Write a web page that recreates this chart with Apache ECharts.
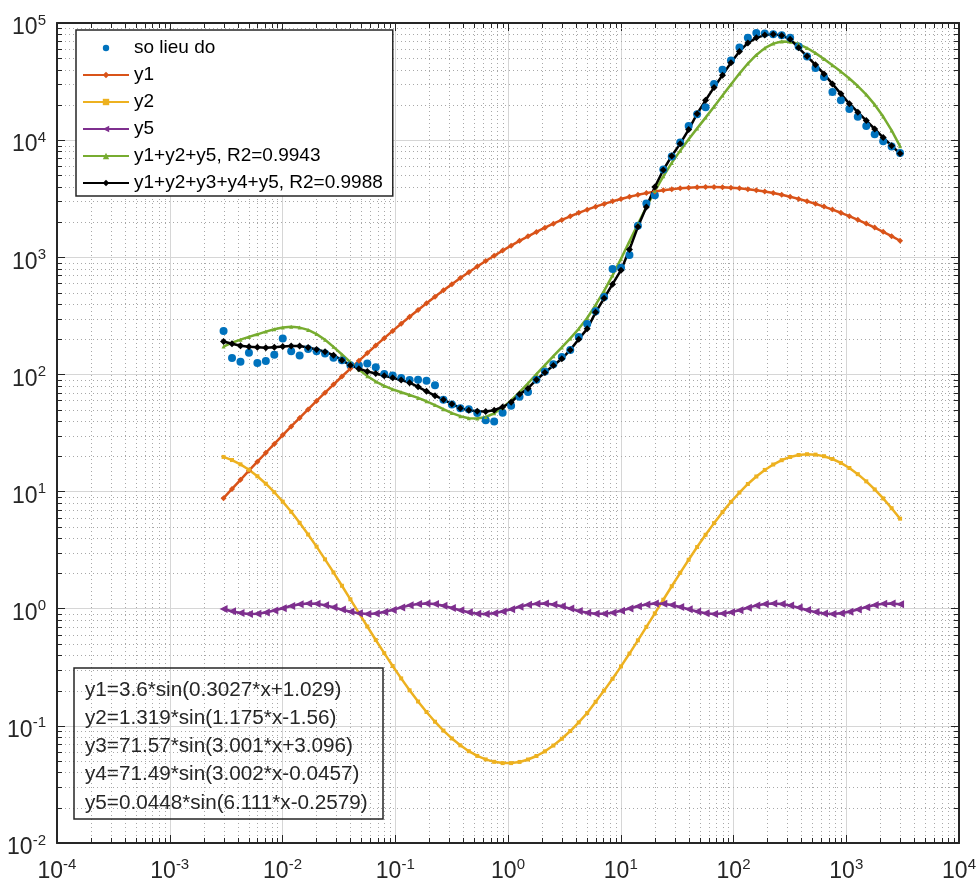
<!DOCTYPE html>
<html>
<head>
<meta charset="utf-8">
<script src="https://cdn.jsdelivr.net/npm/echarts@6/dist/echarts.min.js"></script>
<style>
html,body{margin:0;padding:0;background:#fff;}
#chart{width:979px;height:886px;}
</style>
</head>
<body>
<div id="chart"></div>
<script>
// ---------- data ----------
const xValues = [0.003, 0.003566, 0.004238, 0.005037, 0.005986, 0.007114, 0.008455, 0.01005, 0.01194, 0.01419,
  0.01687, 0.02005, 0.02383, 0.02832, 0.03366, 0.04, 0.04755, 0.05651, 0.06716, 0.07982,
  0.09487, 0.1128, 0.134, 0.1593, 0.1893, 0.225, 0.2674, 0.3178, 0.3777, 0.4489,
  0.5335, 0.6341, 0.7536, 0.8957, 1.065, 1.265, 1.504, 1.787, 2.124, 2.524,
  3, 3.566, 4.238, 5.037, 5.986, 7.114, 8.455, 10.05, 11.94, 14.19,
  16.87, 20.05, 23.83, 28.32, 33.66, 40, 47.55, 56.51, 67.16, 79.82,
  94.87, 112.8, 134, 159.3, 189.3, 225, 267.4, 317.8, 377.7, 448.9,
  533.5, 634.1, 753.6, 895.7, 1065, 1265, 1504, 1787, 2124, 2524, 3000];

const dataValues = [235, 138, 128, 153, 125, 130, 147, 203, 158, 145,
  165, 158, 151, 139, 132, 120, 119, 124, 115, 101,
  97.7, 93.3, 89.5, 89.9, 88.3, 80.9, 60.8, 55.3, 51.5, 50.5,
  46.9, 40.6, 39.7, 47.0, 54.1, 64.6, 70.8, 90.2, 106, 122,
  141, 162, 209, 269, 347, 457, 794, 813, 1047, 1862,
  2884, 3388, 5623, 7244, 9550, 13180, 16600, 19050, 30200, 39810,
  47860, 61660, 74990, 82220, 81280, 80350, 78520, 74990, 63100, 51880,
  41210, 34670, 25700, 21880, 18410, 15850, 13180, 11220, 9772, 8810, 7762];

const y1Values = [8.79, 10.53, 12.60, 15.08, 17.99, 21.45, 25.52, 30.33, 35.97, 42.56,
  50.30, 59.35, 69.82, 82.0, 96.0, 112.2, 130.7, 152.1, 176.4, 204.1,
  235.3, 270.7, 310.7, 355.3, 405.0, 460.7, 521.9, 589.6, 664.3, 745.6,
  833.7, 929.2, 1031, 1140, 1257, 1381, 1511, 1647, 1789, 1936,
  2086, 2239, 2395, 2550, 2704, 2856, 3004, 3148, 3284, 3412,
  3530, 3637, 3731, 3813, 3878, 3929, 3962, 3980, 3980, 3963,
  3929, 3879, 3814, 3734, 3639, 3533, 3415, 3287, 3151, 3008,
  2859, 2707, 2553, 2398, 2243, 2089, 1939, 1792, 1650, 1514, 1384];

const y2Values = [19.76, 18.58, 17.08, 15.36, 13.52, 11.67, 9.87, 8.21, 6.72, 5.41,
  4.30, 3.39, 2.64, 2.04, 1.570, 1.203, 0.921, 0.705, 0.541, 0.4176,
  0.3245, 0.2542, 0.2012, 0.1614, 0.1313, 0.1085, 0.0911, 0.0781, 0.0682, 0.0608,
  0.0554, 0.0517, 0.0493, 0.0481, 0.0481, 0.0492, 0.0516, 0.0553, 0.0606, 0.0679,
  0.0776, 0.0903, 0.1070, 0.1288, 0.1604, 0.1999, 0.2522, 0.3220, 0.4142, 0.5369,
  0.6994, 0.9130, 1.193, 1.556, 2.025, 2.618, 3.361, 4.275, 5.378, 6.673,
  8.16, 9.81, 11.61, 13.45, 15.30, 17.02, 18.53, 19.73, 20.52, 20.84,
  20.67, 20.04, 18.97, 17.56, 15.89, 14.08, 12.23, 10.43, 8.74, 7.21, 5.87];

const y5Values = [0.9966, 0.9528, 0.9199, 0.9033, 0.9059, 0.9274, 0.9643, 1.0103, 1.0561, 1.0915,
  1.1080, 1.1011, 1.0729, 1.0301, 0.9831, 0.9410, 0.9130, 0.9021, 0.9105, 0.9369,
  0.9773, 1.0241, 1.0680, 1.0987, 1.1087, 1.0950, 1.0618, 1.0164, 0.9700, 0.9317,
  0.9078, 0.9025, 0.9165, 0.9473, 0.9905, 1.0376, 1.0786, 1.1040, 1.1070, 1.0870,
  1.0492, 1.0026, 0.9580, 0.9233, 0.9043, 0.9045, 0.9239, 0.9589, 1.0042, 1.0506,
  1.0881, 1.1073, 1.1035, 1.0775, 1.0361, 0.9890, 0.9460, 0.9157, 0.9023, 0.9082,
  0.9325, 0.9716, 1.0181, 1.0629, 1.0957, 1.1086, 1.0979, 1.0666, 1.0224, 0.9757,
  0.9358, 0.9099, 0.9021, 0.9135, 0.9424, 0.9847, 1.0317, 1.0741, 1.1018, 1.1078, 1.0907];

const fit3Values = [173, 186.5, 198, 209, 220, 232, 243, 252, 255, 251,
  240, 221, 198, 172, 148, 127, 110, 96.7, 86.9, 79.8,
  74.6, 70.5, 66.8, 63.0, 59.0, 54.7, 50.5, 46.8, 44.0, 42.3,
  42.0, 43.3, 46.6, 52.0, 59.9, 70.6, 84.1, 100.6, 120, 143,
  170, 203, 245, 303, 392, 516, 700, 972, 1366, 1924,
  2685, 3676, 4912, 6395, 8136, 10170, 12600, 15570, 19320, 24010,
  29890, 37000, 45070, 53390, 61010, 66680, 69490, 69170, 66090, 61160,
  55340, 49370, 43680, 38460, 33600, 28970, 24480, 20080, 15890, 12100, 8862];

const fit5Values = [191, 183, 176, 172, 171, 169, 171, 173, 175, 175,
  170, 163, 156, 146, 132, 120, 112, 106, 102, 97.5,
  93.5, 89.5, 85.1, 78.3, 71.8, 65.8, 60.8, 56.0, 51.5, 49.5,
  48.5, 48.3, 49.5, 52.7, 57.9, 67.6, 75.9, 90.2, 104, 119,
  136, 162, 200, 245, 339, 447, 589, 776, 1164, 1820,
  2692, 3981, 5559, 7328, 9333, 12300, 16790, 21880, 28180, 35890,
  45710, 57150, 67610, 74650, 78890, 80350, 78160, 72780, 61380, 52000,
  43950, 36730, 30200, 24830, 20460, 17340, 14690, 12450, 10520, 8954, 7674];

const seriesNames = ['so lieu do', 'y1', 'y2', 'y5', 'y1+y2+y5, R2=0.9943', 'y1+y2+y3+y4+y5, R2=0.9988'];
const equationLines = [
  'y1=3.6*sin(0.3027*x+1.029)',
  'y2=1.319*sin(1.175*x-1.56)',
  'y3=71.57*sin(3.001*x+3.096)',
  'y4=71.49*sin(3.002*x-0.0457)',
  'y5=0.0448*sin(6.111*x-0.2579)'
];
const xTickExps = [-4, -3, -2, -1, 0, 1, 2, 3, 4];
const yTickExps = [-2, -1, 0, 1, 2, 3, 4, 5];

// ---------- chart ----------
const FONT = '"Liberation Sans", Arial, Helvetica, sans-serif';
const AXIS_COLOR = '#262626';
const xMin = Math.pow(10, xTickExps[0]), xMax = Math.pow(10, xTickExps[xTickExps.length - 1]);
const yMin = Math.pow(10, yTickExps[0]), yMax = Math.pow(10, yTickExps[yTickExps.length - 1]);

const pairs = arr => xValues.map((x, i) => [x, arr[i]]);

// minor grid positions (2..9 x 10^n) for the dotted grid and minor ticks
const minorItems = [];
for (let i = 0; i < xTickExps.length - 1; i++) {
  for (let m = 2; m <= 9; m++) minorItems.push([m * Math.pow(10, xTickExps[i]), 1, 0]);
}
for (let i = 0; i < yTickExps.length - 1; i++) {
  for (let m = 2; m <= 9; m++) minorItems.push([1, m * Math.pow(10, yTickExps[i]), 1]);
}

function renderMinor(params, api) {
  const cs = params.coordSys;
  const kind = api.value(2);
  const dash = { stroke: '#a8a8a8', lineWidth: 1, lineDash: [1, 3] };
  const tick = { stroke: AXIS_COLOR, lineWidth: 1 };
  if (kind === 0) {
    const x = Math.round(api.coord([api.value(0), 1])[0]) + 0.5;
    const top = cs.y, bot = cs.y + cs.height;
    return { type: 'group', children: [
      { type: 'line', shape: { x1: x, y1: top, x2: x, y2: bot }, style: dash },
      { type: 'line', shape: { x1: x, y1: bot, x2: x, y2: bot - 5 }, style: tick },
      { type: 'line', shape: { x1: x, y1: top, x2: x, y2: top + 5 }, style: tick }
    ]};
  }
  const y = Math.round(api.coord([1, api.value(1)])[1]) + 0.5;
  const left = cs.x, right = cs.x + cs.width;
  return { type: 'group', children: [
    { type: 'line', shape: { x1: left, y1: y, x2: right, y2: y }, style: dash },
    { type: 'line', shape: { x1: left, y1: y, x2: left + 5, y2: y }, style: tick },
    { type: 'line', shape: { x1: right, y1: y, x2: right - 5, y2: y }, style: tick }
  ]};
}

const powLabel = v => '{b|10}{s|' + Math.round(Math.log10(v)) + '}';
const labelRich = {
  b: { fontSize: 23, lineHeight: 30, fontFamily: FONT, color: AXIS_COLOR },
  s: { fontSize: 15, lineHeight: 13, verticalAlign: 'top', fontFamily: FONT, color: AXIS_COLOR }
};

function axisBase(min, max) {
  return {
    type: 'log', logBase: 10, min: min, max: max,
    axisLine: { show: true, onZero: false, lineStyle: { color: AXIS_COLOR, width: 2 } },
    axisTick: { show: true, inside: true, length: 8, lineStyle: { color: AXIS_COLOR, width: 1 } },
    minorTick: { show: false },
    minorSplitLine: { show: false },
    splitLine: { show: false }
  };
}

const xMain = Object.assign(axisBase(xMin, xMax), {
  position: 'bottom',
  splitLine: { show: true, lineStyle: { color: '#d6d6d6', width: 1 } },
  axisLabel: { show: true, margin: 14, formatter: powLabel, rich: labelRich, showMinLabel: true, showMaxLabel: true, hideOverlap: false }
});
const xTop = Object.assign(axisBase(xMin, xMax), { position: 'top', axisLabel: { show: false } });
const yMain = Object.assign(axisBase(yMin, yMax), {
  position: 'left',
  splitLine: { show: true, lineStyle: { color: '#d6d6d6', width: 1 } },
  axisLabel: { show: true, margin: 11, padding: [10, 0, 0, 0], formatter: powLabel, rich: labelRich, showMinLabel: true, showMaxLabel: true, hideOverlap: false }
});
const yRight = Object.assign(axisBase(yMin, yMax), { position: 'right', axisLabel: { show: false } });

function lineSeries(name, values, color, symbol, size, extra) {
  return Object.assign({
    name: name, type: 'line', data: pairs(values),
    xAxisIndex: 0, yAxisIndex: 0,
    showSymbol: true, symbol: symbol, symbolSize: size,
    lineStyle: { color: color, width: 2.5 },
    itemStyle: { color: color },
    emphasis: { disabled: true },
    silent: true, clip: true
  }, extra || {});
}

const chart = echarts.init(document.getElementById('chart'), null, { renderer: 'canvas' });
chart.setOption({
  animation: false,
  backgroundColor: '#ffffff',
  grid: { left: 57, right: 19, top: 23, bottom: 43, containLabel: false },
  xAxis: [xMain, xTop],
  yAxis: [yMain, yRight],
  title: {
    text: equationLines.join('\n'),
    left: 74, top: 668,
    padding: [8, 16, 2, 11],
    borderColor: AXIS_COLOR, borderWidth: 1.5,
    textStyle: { fontSize: 20.7, fontWeight: 'normal', lineHeight: 28.2, fontFamily: FONT, color: AXIS_COLOR }
  },
  legend: {
    data: seriesNames,
    orient: 'vertical', left: 76, top: 30,
    itemWidth: 46, itemHeight: 8, itemGap: 7,
    padding: [8, 10, 3, 6],
    backgroundColor: '#ffffff', borderColor: AXIS_COLOR, borderWidth: 1.5,
    selectedMode: false,
    textStyle: { fontSize: 19, lineHeight: 20, color: '#000000', fontFamily: FONT }
  },
  series: [
    { type: 'custom', renderItem: renderMinor, data: minorItems, silent: true, z: 1,
      xAxisIndex: 0, yAxisIndex: 0, encode: { x: 0, y: 1 }, clip: false },
    lineSeries(seriesNames[0], dataValues, '#0072BD', 'circle', 8, { lineStyle: { opacity: 0, width: 0 } }),
    lineSeries(seriesNames[1], y1Values, '#D95319', 'diamond', 6),
    lineSeries(seriesNames[2], y2Values, '#EDB120', 'rect', 4),
    lineSeries(seriesNames[3], y5Values, '#7E2F8E', 'triangle', 8, { symbolRotate: 90 }),
    lineSeries(seriesNames[4], fit3Values, '#77AC30', 'triangle', 4),
    lineSeries(seriesNames[5], fit5Values, '#000000', 'diamond', 7)
  ]
});
</script>
</body>
</html>
